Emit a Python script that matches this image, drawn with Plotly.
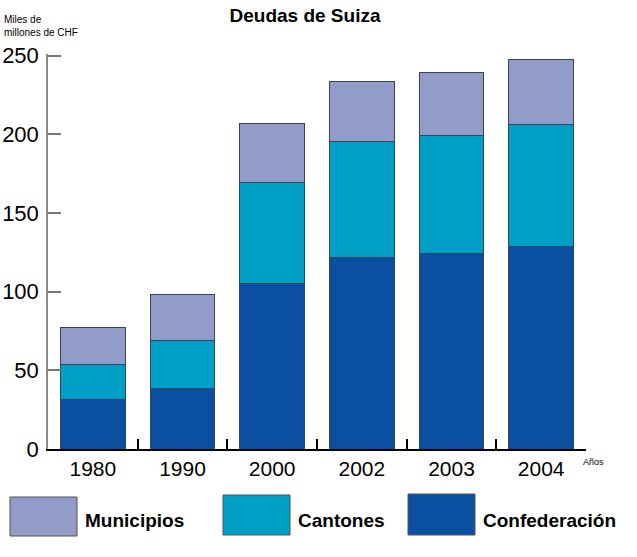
import plotly.graph_objects as go

years = ["1980", "1990", "2000", "2002", "2003", "2004"]
confederacion = [31.5, 38.5, 105, 122, 124.5, 128.5]
cantones = [22.5, 30.5, 64.5, 73.5, 75, 77.5]
municipios = [23, 29, 37.5, 38, 39.5, 41.5]
y_ticks = [0, 50, 100, 150, 200, 250]

FONT = "Liberation Sans, Arial, sans-serif"
edge = dict(color="#34445e", width=1)

W, H = 637, 557
L, R, T, B = 48, 586, 54, 449
PW, PH = R - L, B - T

fig = go.Figure()
fig.add_bar(x=years, y=confederacion, name="Confederación",
            marker=dict(color="#0B50A0", line=edge))
fig.add_bar(x=years, y=cantones, name="Cantones",
            marker=dict(color="#00A0C6", line=edge))
fig.add_bar(x=years, y=municipios, name="Municipios",
            marker=dict(color="#919CC9", line=edge))

fig.update_layout(
    width=W, height=H,
    barmode="stack", bargap=0.28,
    showlegend=False,
    plot_bgcolor="white", paper_bgcolor="white",
    margin=dict(l=L, r=W - R, t=T, b=H - B, autoexpand=False),
    font=dict(family=FONT, color="black"),
    title=dict(text="<b>Deudas de Suiza</b>", x=305 / W, xanchor="center",
               y=1 - 15 / H, yanchor="middle", font=dict(size=19, family=FONT)),
)
fig.update_xaxes(
    type="category", tickson="boundaries", ticks="inside", ticklen=10,
    tickcolor="black", tickwidth=1.5,
    showline=True, linecolor="black", linewidth=1.5,
    tickfont=dict(size=21), showgrid=False, automargin=False,
)
fig.update_yaxes(
    range=[0, 251], tickvals=y_ticks, ticks="inside", ticklen=13,
    tickcolor="#777777", tickwidth=1.5,
    showline=True, linecolor="#888888", linewidth=1.5,
    tickfont=dict(size=22), showgrid=False, zeroline=False, automargin=False,
    ticklabelstandoff=3,
)

def px(xp):
    return (xp - L) / PW

def py(yp):
    return (B - yp) / PH

# axis captions
fig.add_annotation(text="Miles de<br>millones de CHF", xref="paper", yref="paper",
                   x=px(2), y=py(26), xanchor="left", yanchor="middle",
                   showarrow=False, align="left", font=dict(size=10))
fig.add_annotation(text="Años", xref="paper", yref="paper",
                   x=px(581), y=py(462), xanchor="left", yanchor="middle",
                   showarrow=False, font=dict(size=9))

# custom legend
legend_items = [("Municipios", "#919CC9", 10, 497, 536),
                ("Cantones", "#00A0C6", 223, 495, 535),
                ("Confederación", "#0B50A0", 408, 494, 535)]
for name, color, x0, y0, y1 in legend_items:
    fig.add_shape(type="rect", xref="paper", yref="paper",
                  x0=px(x0), x1=px(x0 + 67), y0=py(y1), y1=py(y0),
                  fillcolor=color, line=dict(color="#555555", width=1))
    fig.add_annotation(text="<b>" + name + "</b>", xref="paper", yref="paper",
                       x=px(x0 + 73), y=py(520),
                       xanchor="left", yanchor="middle", showarrow=False,
                       font=dict(size=19))

fig.write_html("out.html",
               config={"displayModeBar": False},
               post_script="document.body.style.margin='0';"
                           "document.body.style.overflow='hidden';")
